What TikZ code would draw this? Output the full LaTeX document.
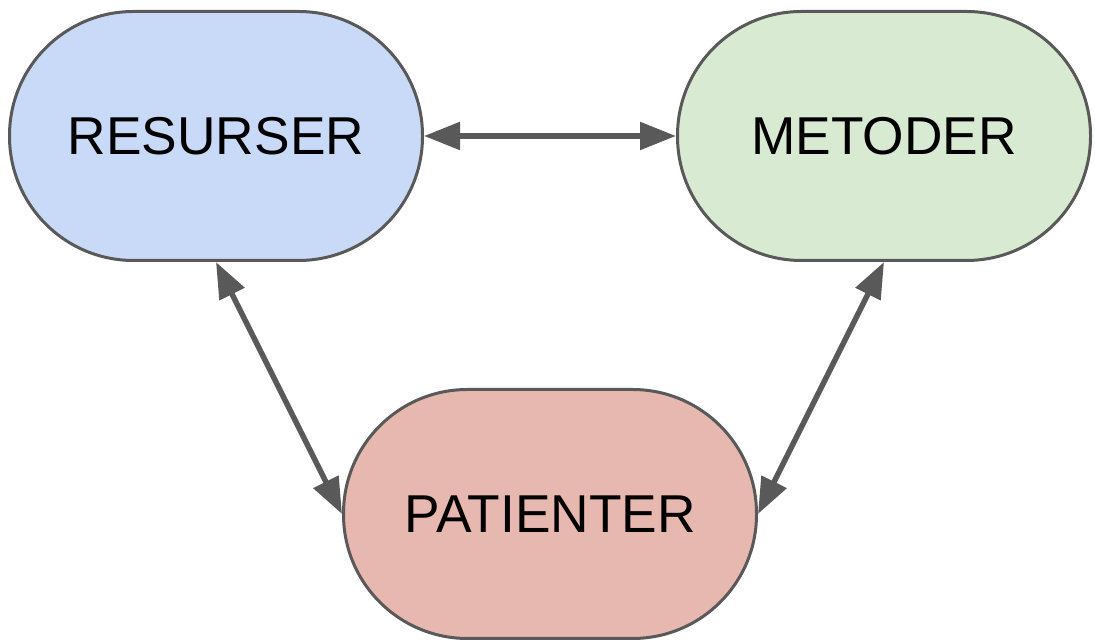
\documentclass[tikz,border=0pt]{standalone}
\usepackage{fontspec}
\setmainfont{Liberation Sans}
\usetikzlibrary{arrows.meta}
\definecolor{cblue}{HTML}{C9DAF8}
\definecolor{cgreen}{HTML}{D9EAD3}
\definecolor{cred}{HTML}{E6B8AF}
\definecolor{cline}{HTML}{595959}
\begin{document}
\begin{tikzpicture}[x=1pt,y=1pt,
  stadium/.style={draw=cline,line width=3pt,rounded corners=124pt,minimum width=413pt,minimum height=249pt,inner sep=0pt,font=\fontsize{53.3}{60}\selectfont},
  link/.style={draw=cline,line width=5.5pt,{Triangle[length=36pt,width=27pt]}-{Triangle[length=36pt,width=27pt]}}]
\useasboundingbox (0,0) rectangle (1095,644);
\node[stadium,fill=cblue] (r) at (216,508) {RESURSER};
\node[stadium,fill=cgreen] (m) at (884,508) {METODER};
\node[stadium,fill=cred] (p) at (550,130) {PATIENTER};
\draw[link] (r.east) -- (m.west);
\draw[link] (r.south) -- (p.west);
\draw[link] (m.south) -- (p.east);
\end{tikzpicture}
\end{document}
